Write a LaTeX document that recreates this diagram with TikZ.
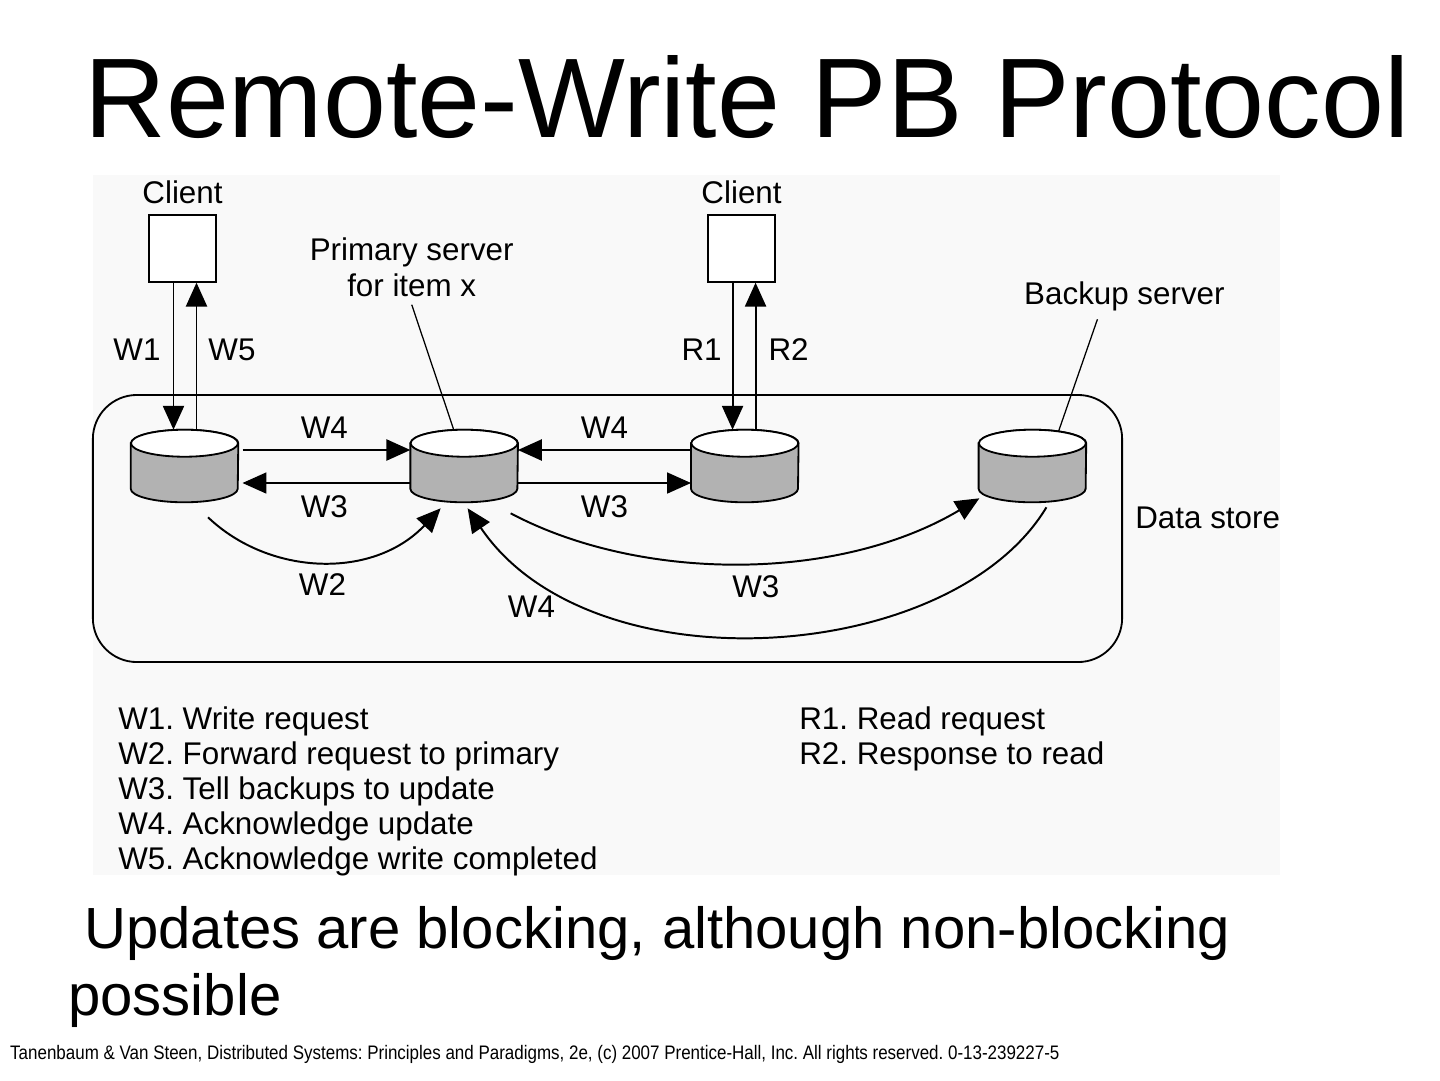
\documentclass[tikz,border=0pt]{standalone}
\usepackage{fontspec}
\setmainfont{Liberation Sans}
\usepackage{tikz}
\usepackage{xcolor}
\usetikzlibrary{calc,positioning,arrows.meta,shapes.geometric,shapes}
\definecolor{figback}{gray}{0.975}
\definecolor{storebody}{gray}{0.70}
\frenchspacing
\tikzset{
>={Triangle[length=17pt,width=15pt]},
  line/.style={draw, line width=1.4pt, ->},
  thinline/.style={draw, line width=0.9pt, ->},
  leader/.style={draw, line width=0.9pt},
}

\begin{document}
\begin{tikzpicture}[x=0.025cm, y=-0.025cm]
  \tikzset{
      every node/.style={font=\fontsize{22.3}{25}\selectfont, inner sep=0pt},
      store/.style={rectangle, minimum width=2.675cm, minimum height=1.8cm},
      client/.style={rectangle, draw=black, line width=1.3pt, fill=white, minimum size=1.675cm},
      dsbox/.style={rectangle, draw=black, line width=1.3pt, rounded corners=1.1cm, minimum width=25.725cm, minimum height=6.675cm},
      msg/.style={text height=1.55ex, text depth=0pt, yshift=-0.12cm},
      title/.style={anchor=base west, font=\fontsize{80.5}{90}\selectfont},
      note/.style={anchor=base west, font=\fontsize{41.3}{50}\selectfont},
  }
  \useasboundingbox (0,0) rectangle (1440,1080);
  \fill[white] (0,0) rectangle (1440,1080);
  \fill[figback] (93,175) rectangle (1280,875);

  \node[title] (title) at (84,137) {Remote-Write PB Protocol};

  \node[dsbox] (dstore) at (607.5,528.5) {};
  \node[anchor=base west] (dslbl) at ([xshift=0.3cm]dstore.east) {Data store};

  \node[store] (ds1) at (184.5,466) {};
  \node[store, right=4.3cm of ds1] (ds2) {};
  \node[store, right=4.325cm of ds2] (ds3) {};
  \node[store, right=4.5cm of ds3] (ds4) {};
  \foreach \n in {ds1,ds2,ds3,ds4} {
    \filldraw[fill=storebody, draw=black, line width=1.3pt] ([yshift=-0.3375cm]\n.north west) -- ([yshift=0.3375cm]\n.south west) arc[start angle=180, end angle=360, x radius=1.3375cm, y radius=0.3375cm] -- ([yshift=-0.3375cm]\n.north east) arc[start angle=0, end angle=180, x radius=1.3375cm, y radius=0.3375cm] -- cycle;
    \filldraw[fill=white, draw=black, line width=1.3pt] ([yshift=-0.3375cm]\n.north) ellipse [x radius=1.3375cm, y radius=0.3375cm];
  }

  \node[client, above=3.675cm of ds1, xshift=-0.05cm] (cl1) {};
  \node[above=0.25cm of cl1] (clt1) {Client};
  \node[client, above=3.675cm of ds3, xshift=-0.08cm] (cl2) {};
  \node[above=0.25cm of cl2] (clt2) {Client};

  \node[align=center, above=3.325cm of ds2, xshift=-1.31cm] (prim) {Primary server\\for item x};
  \node[above=2.96cm of ds4, xshift=2.3cm] (bk) {Backup server};

  \path[leader] ([yshift=-0.2cm]prim.south) -- ([xshift=-0.26cm]ds2.north);
  \path[leader] ([xshift=-0.675cm,yshift=-0.2cm]bk.south) -- ([xshift=0.65cm,yshift=-0.05cm]ds4.north);

  \path[line] ([xshift=-0.225cm]cl1.south) -- node[msg, left=0.3cm, pos=0.46] {W1} ([xshift=-0.225cm]cl1.south |- ds1.north);
  \path[line] ([xshift=0.35cm]cl1.south |- ds1.north) -- node[msg, right=0.275cm, pos=0.54] {W5} ([xshift=0.35cm]cl1.south);
  \path[line] ([xshift=-0.225cm]cl2.south) -- node[msg, left=0.25cm, pos=0.46] {R1} ([xshift=-0.225cm]cl2.south |- ds3.north);
  \path[line] ([xshift=0.35cm]cl2.south |- ds3.north) -- node[msg, right=0.3cm, pos=0.54] {R2} ([xshift=0.35cm]cl2.south);

  \path[line, shorten <=3pt] ([yshift=0.4cm]ds1.east) -- node[above=0.275cm] {W4} ([yshift=0.4cm]ds2.west);
  \path[thinline, shorten >=3pt] ([yshift=-0.425cm]ds2.west) -- node[below=0.3cm] {W3} ([yshift=-0.425cm]ds1.east);
  \path[line] ([yshift=0.4cm]ds3.west) -- node[above=0.275cm] {W4} ([yshift=0.4cm]ds2.east);
  \path[thinline] ([yshift=-0.425cm]ds2.east) -- node[below=0.3cm] {W3} ([yshift=-0.425cm]ds3.west);

  \path[line] ([xshift=0.5875cm,yshift=-0.375cm]ds1.south) .. controls +(62,59) and +(-67,71) .. ([xshift=-0.5875cm,yshift=-0.15cm]ds2.south) node[pos=0.5, below=0.275cm] {W2};
  \path[line] ([xshift=1.1625cm,yshift=-0.275cm]ds2.south) .. controls +(130,69) and +(-141,84) .. ([xshift=-1.325cm,yshift=0.1cm]ds4.south) node[pos=0.53, below=0.3cm] {W3};
  \path[line] ([xshift=0.35cm,yshift=-0.125cm]ds4.south) .. controls +(-95,158) and +(123,182) .. ([xshift=0.0875cm,yshift=-0.15cm]ds2.south) node[pos=0.8, anchor=north east, xshift=-0.25cm, yshift=-0.05cm] {W4};

  \foreach \txt [count=\i] in {W1. Write request, W2. Forward request to primary, W3. Tell backups to update, W4. Acknowledge update, W5. Acknowledge write completed}
    \node[anchor=base west] (wl\i) at (118, 694+35*\i) {\txt};
  \foreach \txt [count=\i] in {R1. Read request, R2. Response to read}
    \node[anchor=base west] (rl\i) at (799, 694+35*\i) {\txt};

  \node[note] (note1) at (84,948) {Updates are blocking, although non-blocking};
  \node[note] (note2) at (68,1015) {possible};
  \node[anchor=base west, font=\fontsize{13.9}{16}\selectfont, xscale=0.868] (foot) at (10,1059) {Tanenbaum \& Van Steen, Distributed Systems: Principles and Paradigms, 2e, (c) 2007 Prentice-Hall, Inc. All rights reserved. 0-13-239227-5};
\end{tikzpicture}
\end{document}
